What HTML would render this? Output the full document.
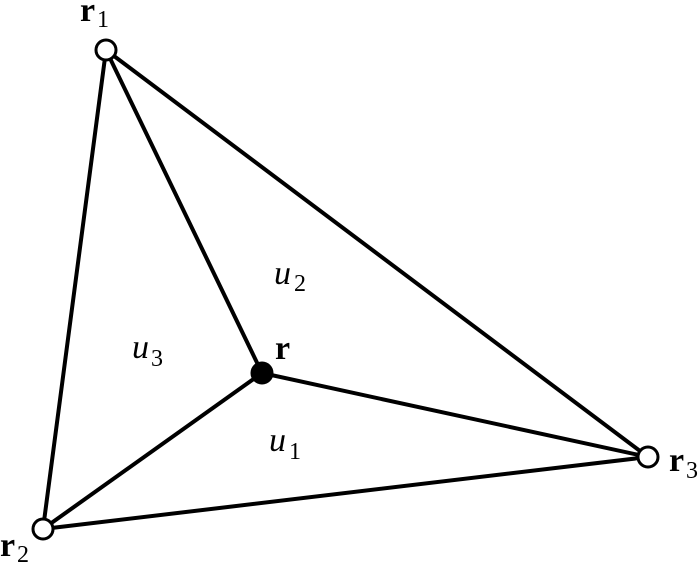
<!DOCTYPE html>
<html><head><meta charset="utf-8"><style>
html,body{margin:0;padding:0;background:#fff}
svg{display:block}
</style></head><body>
<svg width="699" height="565" viewBox="0 0 699 565" xmlns="http://www.w3.org/2000/svg">
<g stroke="#000" stroke-width="4" fill="none" stroke-linecap="round">
<line x1="106" y1="50" x2="43" y2="529"/>
<line x1="106" y1="50" x2="648" y2="457"/>
<line x1="43" y1="529" x2="648" y2="457"/>
<line x1="106" y1="50" x2="262" y2="373"/>
<line x1="43" y1="529" x2="262" y2="373"/>
<line x1="648" y1="457" x2="262" y2="373"/>
</g>
<g stroke="#000" stroke-width="3">
<circle cx="106" cy="50" r="10" fill="#fff"/>
<circle cx="43" cy="529" r="10" fill="#fff"/>
<circle cx="648" cy="457" r="10" fill="#fff"/>
<circle cx="262" cy="373" r="10" fill="#000"/>
</g>
<g font-family="Liberation Serif, serif">
<g font-weight="bold" font-size="34">
<text x="80" y="21">r</text>
<text x="0" y="556">r</text>
<text x="669" y="471">r</text>
<text x="275" y="359">r</text>
</g>
<g font-size="24">
<text x="97" y="27">1</text>
<text x="17" y="562">2</text>
<text x="686" y="478">3</text>
<text x="294" y="291">2</text>
<text x="151" y="366">3</text>
<text x="289" y="459">1</text>
</g>
<g font-style="italic" font-size="34">
<text x="274" y="284">u</text>
<text x="132" y="358">u</text>
<text x="269" y="451">u</text>
</g>
</g>
</svg>
</body></html>
